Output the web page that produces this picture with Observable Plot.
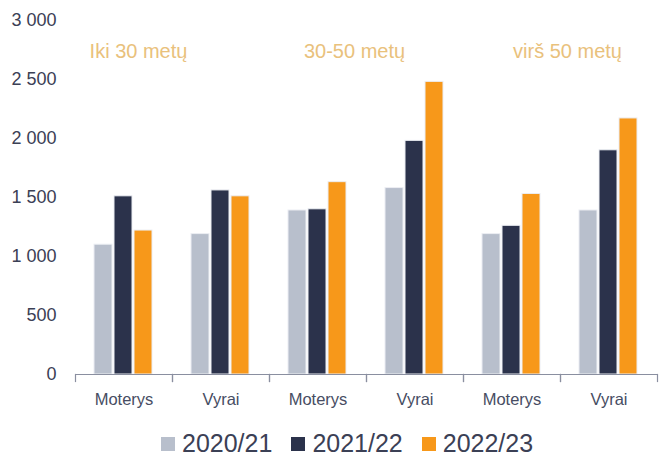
<!DOCTYPE html>
<html>
<head>
<meta charset="utf-8">
<script src="https://cdn.jsdelivr.net/npm/d3@7"></script>
<script src="https://cdn.jsdelivr.net/npm/@observablehq/plot@0.6"></script>
<style>
  body { margin: 0; background: #fff; font-family: "Liberation Sans", Arial, sans-serif; }
  #legend { display: flex; align-items: center; padding-left: 161px; padding-top: 6px; height: 35px; font-size: 25px; color: #3b4055; }
  #legend .item { display: flex; align-items: center; margin-right: 19px; }
  #legend .sw { width: 14px; height: 14px; margin-right: 7px; }
</style>
</head>
<body>
<div id="chart"></div>
<div id="legend"></div>
<script>
const groups = ["Iki 30 metų", "30-50 metų", "virš 50 metų"];
const genders = ["Moterys", "Vyrai"];
const years = ["2020/21", "2021/22", "2022/23"];
const colors = ["#b8bfcc", "#2b324b", "#f7981a"];
// values per group → gender → year
const v2020 = [1100, 1190, 1390, 1580, 1190, 1390];
const v2021 = [1510, 1560, 1400, 1980, 1260, 1900];
const v2022 = [1220, 1510, 1630, 2480, 1530, 2170];
const yTicks = [0, 500, 1000, 1500, 2000, 2500, 3000];

const cats = [];
groups.forEach(g => genders.forEach(s => cats.push(g + "|" + s)));
const series = [v2020, v2021, v2022];
const data = [];
cats.forEach((c, i) => years.forEach((yr, j) => data.push({cat: c, year: yr, value: series[j][i]})));

const fmt = d => d3.format(",")(d).replace(/,/g, " ");
const labelFont = 20;

const chart = Plot.plot({
  width: 663,
  height: 420,
  marginLeft: 74,
  marginRight: 6,
  marginTop: 20,
  marginBottom: 46,
  style: {fontFamily: "'Liberation Sans', Arial, sans-serif", background: "#fff"},
  fx: {domain: cats, padding: 0},
  x: {domain: years, paddingInner: 0.08, paddingOuter: 0.95},
  y: {domain: [0, 3000]},
  color: {domain: years, range: colors},
  marks: [
    Plot.axisY({ticks: yTicks, tickFormat: fmt, tickSize: 0, tickPadding: 19, fontSize: 18, color: "#3b4055", label: null}),
    Plot.axisX({ticks: [], label: null}),
    Plot.axisFx({anchor: "bottom", tickSize: 0, tickPadding: 19, fontSize: 16.5, color: "#474d63", label: null, tickFormat: d => d.split("|")[1]}),
    Plot.barY(data, {fx: "cat", x: "year", y: "value", fill: "year", stroke: "#eceef3", strokeWidth: 1}),
    Plot.ruleY([0], {stroke: "#8a8fa0", strokeWidth: 1.2}),
    Plot.frame({anchor: "left", stroke: "#8a8fa0", strokeWidth: 1.2, insetTop: 354, insetBottom: -7}),
    Plot.frame({anchor: "right", stroke: "#8a8fa0", strokeWidth: 1.2, insetTop: 354, insetBottom: -7}),
    Plot.text([{g: groups[0], cat: groups[0] + "|Vyrai"}], {fx: "cat", text: "g", frameAnchor: "top-left", textAnchor: "middle", lineAnchor: "middle", dx: -34, dy: 31, fontSize: labelFont, fill: "#e9c17c"}),
    Plot.text([{g: groups[1], cat: groups[1] + "|Vyrai"}], {fx: "cat", text: "g", frameAnchor: "top-left", textAnchor: "middle", lineAnchor: "middle", dx: -12, dy: 31, fontSize: labelFont, fill: "#e9c17c"}),
    Plot.text([{g: groups[2], cat: groups[2] + "|Vyrai"}], {fx: "cat", text: "g", frameAnchor: "top-left", textAnchor: "middle", lineAnchor: "middle", dx: 7, dy: 31, fontSize: labelFont, fill: "#e9c17c"})
  ]
});
document.getElementById("chart").appendChild(chart);

const legend = document.getElementById("legend");
years.forEach((yr, i) => {
  const item = document.createElement("div");
  item.className = "item";
  const sw = document.createElement("div");
  sw.className = "sw";
  sw.style.background = colors[i];
  const t = document.createElement("span");
  t.textContent = yr;
  item.appendChild(sw);
  item.appendChild(t);
  legend.appendChild(item);
});
</script>
</body>
</html>
